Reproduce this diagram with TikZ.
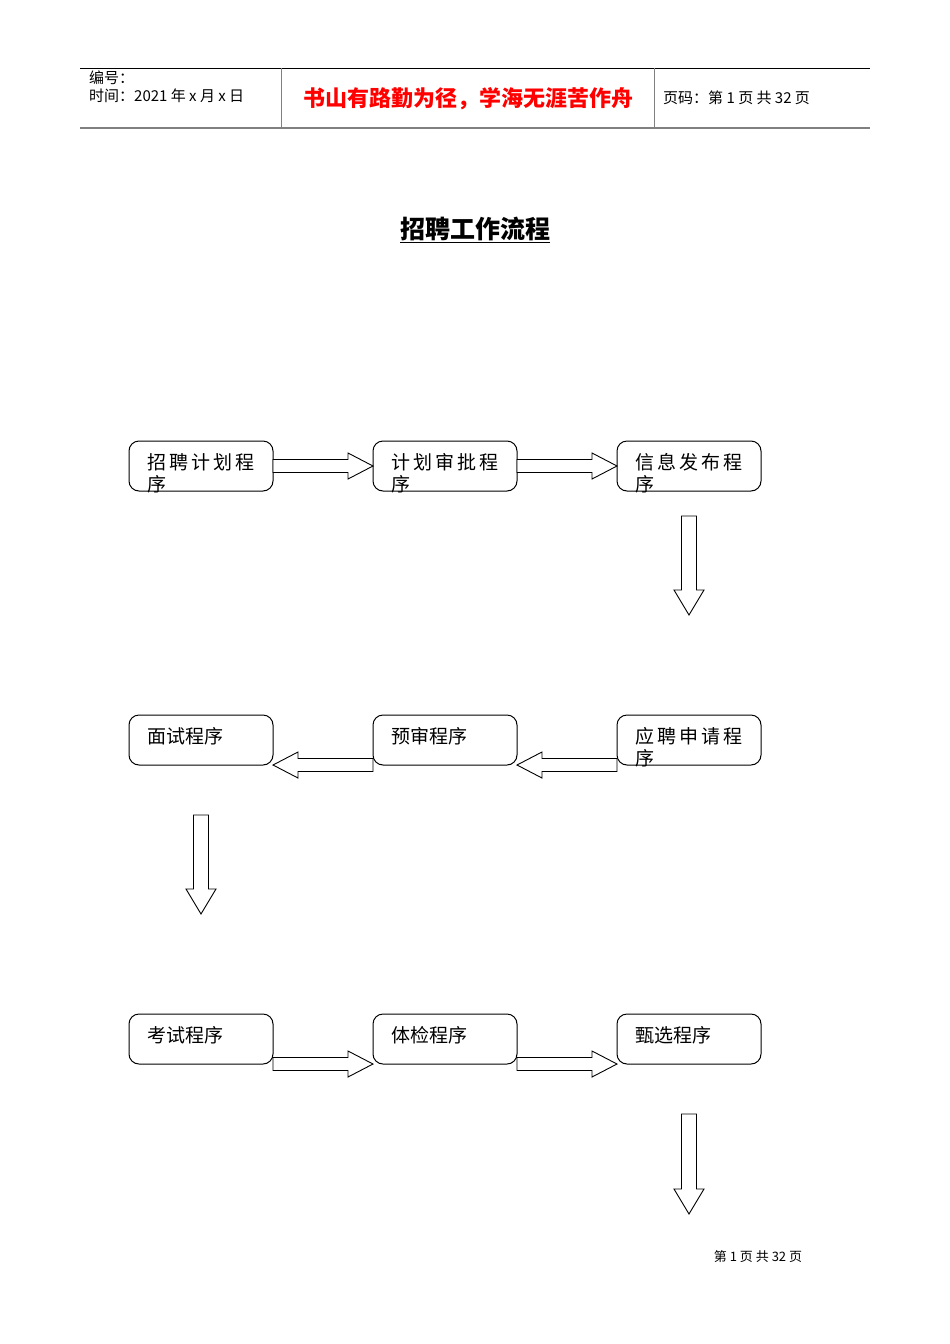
\documentclass[tikz,border=0pt]{standalone}
\usepackage{fontspec}
\setmainfont{Noto Sans CJK SC}
\usepackage{tikz}
\usetikzlibrary{positioning, calc}
\tikzset{
  proc/.style = {
    rectangle, rounded corners=10pt, draw=black, line width=1pt,
    minimum width=144pt, minimum height=50pt, inner sep=0pt, outer sep=0pt
  },
  ptext/.style = {
    anchor=north west, inner sep=0pt, align=left,
    font=\fontsize{19}{22}\selectfont
  },
  blk/.style = {draw=black, line width=0.9pt, fill=white, line join=miter}
}
% hollow block arrow: start, tip, shaft half width, head half width
\newcommand\blkarrow[4]{%
  \coordinate (h) at ($(#2)!25pt!(#1)$);
  \draw[blk] ($(#1)!#3!90:(h)$) -- ($(h)!#3!-90:(#1)$)
    -- ($(h)!#4!-90:(#1)$) -- (#2) -- ($(h)!#4!90:(#1)$)
    -- ($(h)!#3!90:(#1)$) -- ($(#1)!#3!-90:(h)$) -- cycle;
}

\begin{document}
\begin{tikzpicture}[x=1pt, y=-1pt]
\useasboundingbox (0,0) rectangle (950,1344);

%% Header
\draw[line width=1pt] (80,68) -- (870,68);
\draw[line width=2pt, gray] (80,128) -- (870,128);
\draw[gray] (281,68) -- (281,128);
\draw[gray] (654,68) -- (654,128);
\node[anchor=west, inner sep=0pt, align=left,
      font=\fontsize{15}{18}\selectfont] (hinfo) at (89,87)
      {编号：\\时间：2021 年 x 月 x 日};
\node[font=\bfseries\fontsize{22}{24}\selectfont, text=red] (motto)
      at (468,99) {书山有路勤为径，学海无涯苦作舟};
\node[anchor=west, inner sep=0pt, font=\fontsize{15}{18}\selectfont]
      (pageno) at (663,98) {页码：第 1 页 共 32 页};

%% Title
\node[font=\bfseries\fontsize{25}{28}\selectfont] (title) at (475,230)
      {\underline{招聘工作流程}};

%% Row 1
\node[proc, anchor=north west] (plan) at (129,441) {};
\node[proc, right=100pt of plan] (appr) {};
\node[proc, right=100pt of appr] (pub)  {};

%% Row 2 (right to left)
\node[proc, below=224pt of pub]  (apply) {};
\node[proc, left=100pt of apply] (pre)   {};
\node[proc, left=100pt of pre]   (itv)   {};

%% Row 3
\node[proc, below=249pt of itv]  (exam) {};
\node[proc, right=100pt of exam] (med)  {};
\node[proc, right=100pt of med]  (sel)  {};

%% Box texts
\node[ptext] (plan-t)  at ([xshift=18pt,yshift=-12pt]plan.north west)  {招\,聘\,计\,划\,程\\序};
\node[ptext] (appr-t)  at ([xshift=18pt,yshift=-12pt]appr.north west)  {计\,划\,审\,批\,程\\序};
\node[ptext] (pub-t)   at ([xshift=18pt,yshift=-12pt]pub.north west)   {信\,息\,发\,布\,程\\序};
\node[ptext] (apply-t) at ([xshift=18pt,yshift=-12pt]apply.north west) {应\,聘\,申\,请\,程\\序};
\node[ptext] (pre-t)   at ([xshift=18pt,yshift=-12pt]pre.north west)   {预审程序};
\node[ptext] (itv-t)   at ([xshift=18pt,yshift=-12pt]itv.north west)   {面试程序};
\node[ptext] (exam-t)  at ([xshift=18pt,yshift=-12pt]exam.north west)  {考试程序};
\node[ptext] (med-t)   at ([xshift=18pt,yshift=-12pt]med.north west)   {体检程序};
\node[ptext] (sel-t)   at ([xshift=18pt,yshift=-12pt]sel.north west)   {甄选程序};

%% Free ends of the down arrows
\coordinate (d1a) at ([yshift=-25pt]pub.south);
\coordinate (d1b) at ([yshift=-124pt]pub.south);
\coordinate (d2a) at ([yshift=-50pt]itv.south);
\coordinate (d2b) at ([yshift=-149pt]itv.south);
\coordinate (d3a) at ([yshift=-50pt]sel.south);
\coordinate (d3b) at ([yshift=-150pt]sel.south);

%% Row 1 arrows
\blkarrow{plan.east}{appr.west}{6.5pt}{13pt}
\blkarrow{appr.east}{pub.west}{6.5pt}{13pt}
\blkarrow{d1a}{d1b}{7.5pt}{15pt}

%% Row 2 arrows
\blkarrow{apply.south west}{pre.south east}{6.5pt}{13pt}
\blkarrow{pre.south west}{itv.south east}{6.5pt}{13pt}
\blkarrow{d2a}{d2b}{7.5pt}{15pt}

%% Row 3 arrows
\blkarrow{exam.south east}{med.south west}{6.5pt}{13pt}
\blkarrow{med.south east}{sel.south west}{6.5pt}{13pt}
\blkarrow{d3a}{d3b}{7.5pt}{15pt}

%% Footer
\node[font=\fontsize{13}{16}\selectfont] (foot) at (758,1257) {第 1 页 共 32 页};

\end{tikzpicture}
\end{document}
